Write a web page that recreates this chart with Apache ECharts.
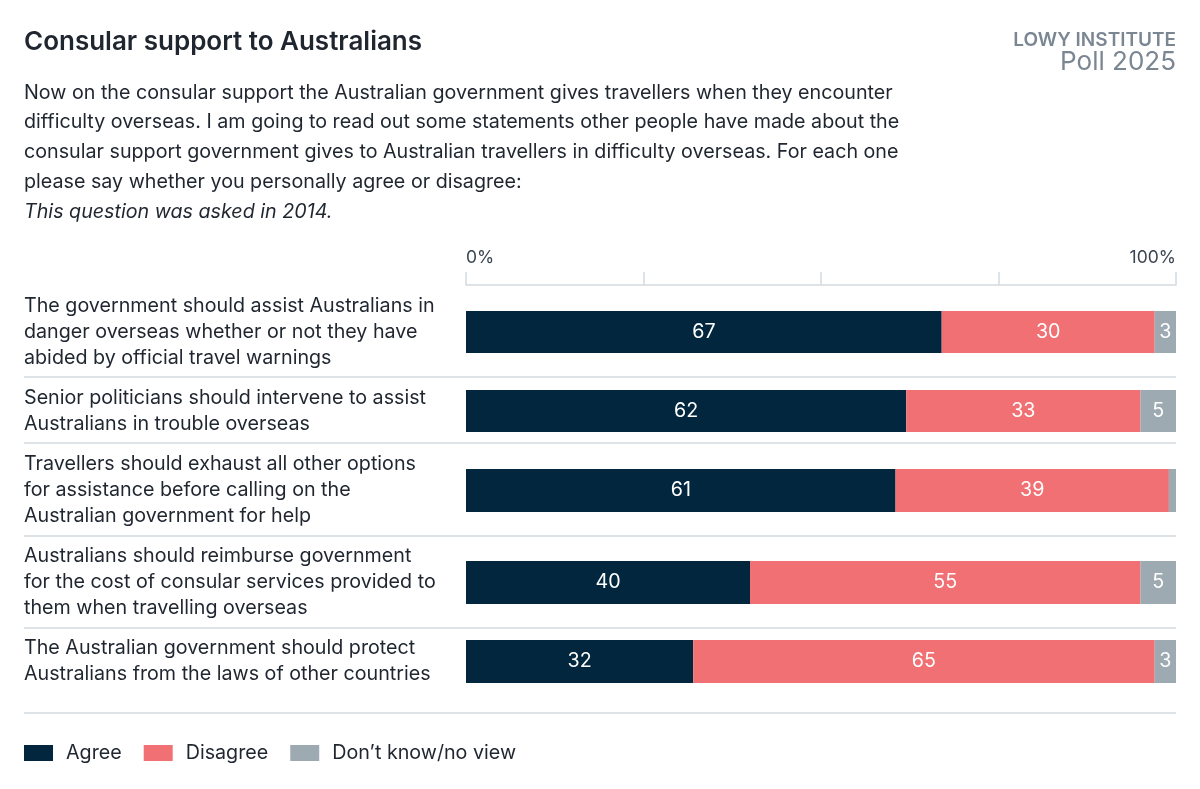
<!DOCTYPE html>
<html>
<head>
<meta charset="utf-8">
<script src="https://cdn.jsdelivr.net/npm/echarts@6/dist/echarts.min.js"></script>
<style>
  html, body { margin: 0; padding: 0; background: #fff; }
  #chart { width: 1200px; height: 789px; }
</style>
</head>
<body>
<div id="chart"></div>
<script>
// data
const statements = [
    'The government should assist Australians in\ndanger overseas whether or not they have\nabided by official travel warnings',
    'Senior politicians should intervene to assist\nAustralians in trouble overseas',
    'Travellers should exhaust all other options\nfor assistance before calling on the\nAustralian government for help',
    'Australians should reimburse government\nfor the cost of consular services provided to\nthem when travelling overseas',
    'The Australian government should protect\nAustralians from the laws of other countries'
];
const agree = [67, 62, 60.5, 40, 32];
const disagree = [30, 33, 38.5, 55, 65];
const dontKnow = [3, 5, 1, 5, 3];
const seriesNames = ['Agree', 'Disagree', 'Don\u2019t know/no view'];
const axisTicks = [0, 100];

// layout of each row (px)
const rowTop = [311, 390, 469, 561, 640];
const rowHeight = [42, 42, 43, 43, 43];
const separators = [377, 443, 536, 628, 713];
const colors = ['#02263d', '#f07073', '#9eaab1'];
const font = 'Inter, "Noto Sans", sans-serif';
const textSize = 19.7;

const chart = echarts.init(document.getElementById('chart'));

const grids = [], xAxes = [], yAxes = [], series = [];
const values = [agree, disagree, dontKnow];

statements.forEach(function (s, i) {
    grids.push({ left: 466, right: 24, top: rowTop[i], height: rowHeight[i] });
    xAxes.push({
        gridIndex: i,
        type: 'value',
        min: 0,
        max: 100,
        interval: 25,
        show: i === 0,
        position: 'top',
        offset: 26,
        axisLine: { show: true, lineStyle: { color: '#d3dae1', width: 1.5 } },
        axisTick: { show: true, length: 13, lineStyle: { color: '#d3dae1', width: 1.5 } },
        splitLine: { show: false },
        axisLabel: {
            margin: 18,
            fontFamily: font,
            fontSize: 17.5,
            color: '#3a4450',
            alignMinLabel: 'left',
            alignMaxLabel: 'right',
            formatter: function (v) { return axisTicks.indexOf(v) >= 0 ? v + '%' : ''; }
        }
    });
    yAxes.push({
        gridIndex: i,
        type: 'category',
        data: [s],
        axisLine: { show: false },
        axisTick: { show: false },
        axisLabel: {
            align: 'left',
            margin: 442,
            fontFamily: font,
            fontSize: textSize,
            lineHeight: 26,
            color: '#1f2630'
        }
    });
    values.forEach(function (arr, k) {
        series.push({
            type: 'bar',
            name: seriesNames[k],
            xAxisIndex: i,
            yAxisIndex: i,
            stack: 'row' + i,
            barWidth: '100%',
            itemStyle: { color: colors[k] },
            label: {
                show: arr[i] >= 2,
                position: 'inside',
                color: '#fff',
                fontFamily: font,
                fontSize: textSize,
                formatter: function (p) { return Math.round(p.value); }
            },
            data: [arr[i]]
        });
    });
});

const option = {
    animation: false,
    color: colors,
    title: [
        {
            text: 'Consular support to Australians',
            left: 24,
            top: 29,
            padding: 0,
            textStyle: { fontFamily: font, fontSize: 26, fontWeight: 600, color: '#1f2630' }
        },
        {
            text: '{n|Now on the consular support the Australian government gives travellers when they encounter}\n' +
                  '{n|difficulty overseas. I am going to read out some statements other people have made about the}\n' +
                  '{n|consular support government gives to Australian travellers in difficulty overseas. For each one}\n' +
                  '{n|please say whether you personally agree or disagree:}\n' +
                  '{i|This question was asked in 2014.}',
            left: 24,
            top: 78,
            padding: 0,
            textStyle: {
                fontWeight: 'normal',
                rich: {
                    n: { fontFamily: font, fontSize: textSize, fontWeight: 'normal', lineHeight: 29.7, color: '#1f2630' },
                    i: { fontFamily: font, fontSize: textSize, fontWeight: 'normal', lineHeight: 29.7, color: '#1f2630', fontStyle: 'italic' }
                }
            }
        },
        {
            text: 'LOWY INSTITUTE',
            right: 24,
            top: 31,
            padding: 0,
            textStyle: { fontFamily: font, fontSize: 19, fontWeight: 600, color: '#7b8693' }
        },
        {
            text: 'Poll 2025',
            right: 24,
            top: 49,
            padding: 0,
            textStyle: { fontFamily: font, fontSize: 26, fontWeight: 400, color: '#7b8693' }
        }
    ],
    legend: {
        left: 24,
        top: 743,
        padding: 0,
        itemWidth: 29,
        itemHeight: 16,
        itemGap: 22,
        icon: 'rect',
        data: seriesNames,
        textStyle: { fontFamily: font, fontSize: textSize, color: '#1f2630', padding: [0, 0, 0, 8] }
    },
    graphic: separators.map(function (y) {
        return {
            type: 'line',
            shape: { x1: 24, y1: y, x2: 1176, y2: y },
            style: { stroke: '#d3dae1', lineWidth: 1.5 },
            silent: true
        };
    }),
    grid: grids,
    xAxis: xAxes,
    yAxis: yAxes,
    series: series
};

chart.setOption(option);
</script>
</body>
</html>
